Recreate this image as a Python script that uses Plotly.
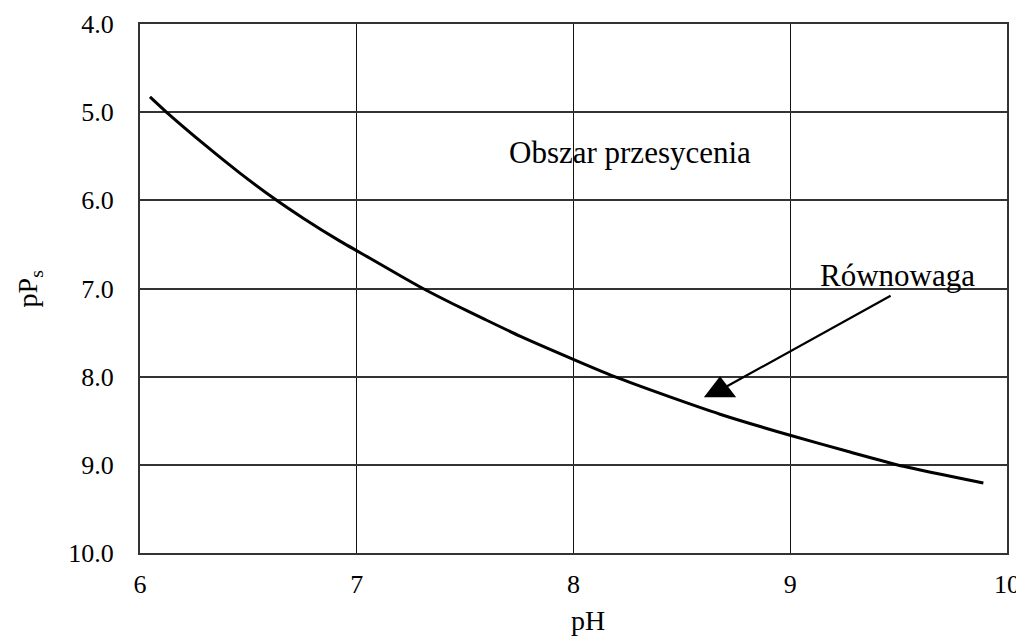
import plotly.graph_objects as go

# Data
ph = [6.046, 6.123, 6.308, 6.461, 6.632, 6.753, 6.919, 7.061, 7.215, 7.310, 7.445,
      7.584, 7.753, 8.015, 8.199, 8.445, 8.676, 8.999, 9.276, 9.522, 9.891]
pps = [4.827, 5.002, 5.389, 5.691, 6.002, 6.202, 6.457, 6.657, 6.875, 7.006, 7.176,
       7.342, 7.540, 7.820, 8.009, 8.230, 8.426, 8.665, 8.855, 9.017, 9.207]

x_ticks = [6, 7, 8, 9, 10]
x_ticktext = ["6", "7", "8", "9", "10"]
y_ticks = [4, 5, 6, 7, 8, 9, 10]
y_ticktext = ["4.0", "5.0", "6.0", "7.0", "8.0", "9.0", "10.0"]

FONT = "Liberation Serif, Times New Roman, Times, DejaVu Serif, serif"

fig = go.Figure()
fig.add_trace(go.Scatter(
    x=ph, y=pps, mode="lines",
    line=dict(color="black", width=3, shape="spline", smoothing=0.6),
    showlegend=False, hoverinfo="skip",
))

# arrow head (upright triangle) for "Równowaga"
fig.add_trace(go.Scatter(
    x=[8.676], y=[8.153], mode="markers",
    marker=dict(symbol="triangle-up", size=28, color="black", line=dict(width=0)),
    showlegend=False, hoverinfo="skip",
))

fig.add_shape(type="line", xref="x", yref="y",
              x0=9.463, y0=7.082, x1=8.70, y1=8.12,
              line=dict(color="black", width=2.2))

fig.add_annotation(x=8.261, y=5.46, xref="x", yref="y", text="Obszar przesycenia",
                   showarrow=False, font=dict(family=FONT, size=31, color="black"))
fig.add_annotation(x=9.496, y=6.847, xref="x", yref="y", text="Równowaga",
                   showarrow=False, font=dict(family=FONT, size=31, color="black"))
fig.add_annotation(x=0.517, y=-0.128, xref="paper", yref="paper", text="pH",
                   showarrow=False, yanchor="middle",
                   font=dict(family=FONT, size=28, color="black"))
fig.add_annotation(x=-0.127, y=0.5, xref="paper", yref="paper", text="pP<sub>s</sub>",
                   showarrow=False, textangle=-90, xanchor="center", yanchor="middle",
                   font=dict(family=FONT, size=28, color="black"))

# page body has an 8px default margin, so the figure is drawn 8px smaller
fig.update_layout(
    width=1016, height=630,
    margin=dict(l=132, r=17, t=16, b=85),
    paper_bgcolor="white", plot_bgcolor="white",
    font=dict(family=FONT, size=26, color="black"),
    xaxis=dict(range=[6, 10], tickvals=x_ticks, ticktext=x_ticktext,
               showgrid=True, gridcolor="#111", gridwidth=1,
               showline=True, linecolor="#333", linewidth=2, mirror=True,
               ticks="", ticklabelstandoff=7, zeroline=False, automargin=False,
               tickfont=dict(family=FONT, size=26)),
    yaxis=dict(range=[10, 4], tickvals=y_ticks, ticktext=y_ticktext,
               showgrid=True, gridcolor="#333", gridwidth=1.6,
               showline=True, linecolor="#333", linewidth=2, mirror=True,
               ticks="", ticklabelstandoff=19, zeroline=False, automargin=False,
               tickfont=dict(family=FONT, size=26)),
)

fig.write_html("out.html")
